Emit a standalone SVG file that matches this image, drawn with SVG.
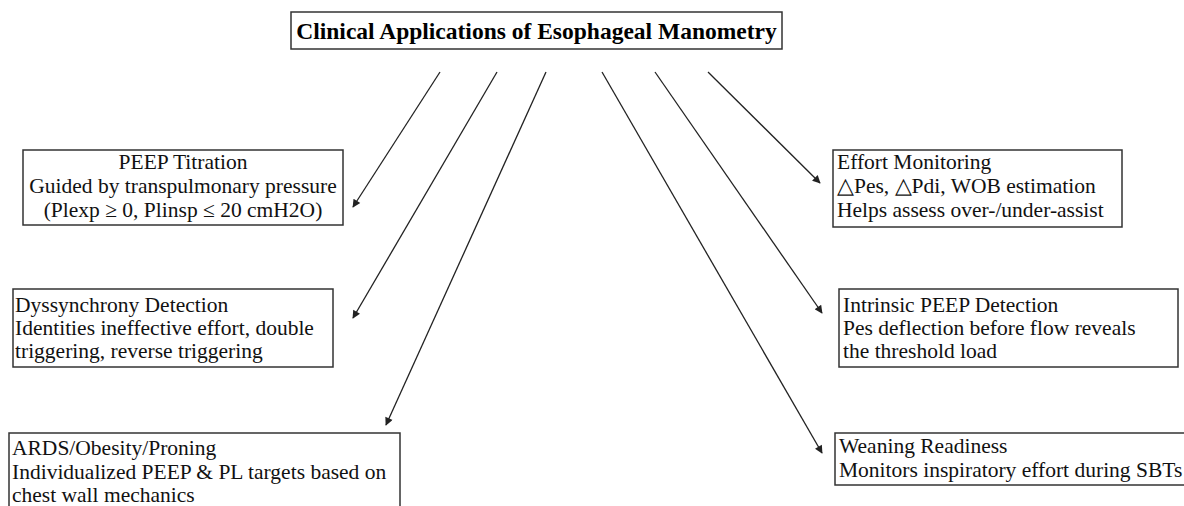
<svg xmlns="http://www.w3.org/2000/svg" width="1184" height="506" viewBox="0 0 1184 506">
<style>
.box{fill:#fff;stroke:#333;stroke-width:1.5}
.t{font-family:"Liberation Serif","Times New Roman",serif;font-size:21.5px;fill:#111}
.title{font-family:"Liberation Serif","Times New Roman",serif;font-size:23.5px;font-weight:bold;fill:#000}
.c{text-anchor:middle}
.conn line{stroke:#222;stroke-width:1.3;marker-end:url(#ah)}
</style>
<defs>
<marker id="ah" viewBox="0 0 10 10" refX="9" refY="5" markerWidth="10" markerHeight="8" markerUnits="userSpaceOnUse" orient="auto">
<path d="M0,0 L10,5 L0,10 z" fill="#222"/>
</marker>
</defs>
<rect width="1184" height="506" fill="#fff"/>
<g id="title">
<rect class="box" x="291" y="12" width="491" height="37"/>
<text class="title c" x="536.5" y="39">Clinical Applications of Esophageal Manometry</text>
</g>
<g id="peep">
<rect class="box" x="23" y="150" width="320" height="75"/>
<text class="t c" x="183" y="169">PEEP Titration</text>
<text class="t c" x="183" y="193">Guided by transpulmonary pressure</text>
<text class="t c" x="183" y="217">(Plexp ≥ 0, Plinsp ≤ 20 cmH2O)</text>
</g>
<g id="dyssynchrony">
<rect class="box" x="13" y="289" width="320" height="78"/>
<text class="t" x="15" y="312">Dyssynchrony Detection</text>
<text class="t" x="15" y="335">Identities ineffective effort, double</text>
<text class="t" x="15" y="358">triggering, reverse triggering</text>
</g>
<g id="ards">
<rect class="box" x="9" y="433" width="391" height="80"/>
<text class="t" x="12" y="455">ARDS/Obesity/Proning</text>
<text class="t" x="12" y="479">Individualized PEEP &amp; PL targets based on</text>
<text class="t" x="12" y="502">chest wall mechanics</text>
</g>
<g id="effort">
<rect class="box" x="833" y="150" width="289" height="77"/>
<text class="t" x="837" y="169">Effort Monitoring</text>
<text class="t" x="837" y="193">△Pes, △Pdi, WOB estimation</text>
<text class="t" x="837" y="217">Helps assess over-/under-assist</text>
</g>
<g id="intrinsic">
<rect class="box" x="839" y="289" width="339" height="78"/>
<text class="t" x="843" y="312">Intrinsic PEEP Detection</text>
<text class="t" x="843" y="335">Pes deflection before flow reveals</text>
<text class="t" x="843" y="358">the threshold load</text>
</g>
<g id="weaning">
<rect class="box" x="835" y="433" width="355" height="52"/>
<text class="t" x="839" y="453">Weaning Readiness</text>
<text class="t" x="839" y="477">Monitors inspiratory effort during SBTs</text>
</g>
<g class="conn" id="connectors">
<line x1="440" y1="72" x2="353" y2="207"/>
<line x1="497" y1="72" x2="353" y2="318"/>
<line x1="546" y1="72" x2="386" y2="425"/>
<line x1="602" y1="72" x2="822" y2="453"/>
<line x1="655" y1="72" x2="822" y2="313"/>
<line x1="708" y1="72" x2="820" y2="183"/>
</g>
</svg>
